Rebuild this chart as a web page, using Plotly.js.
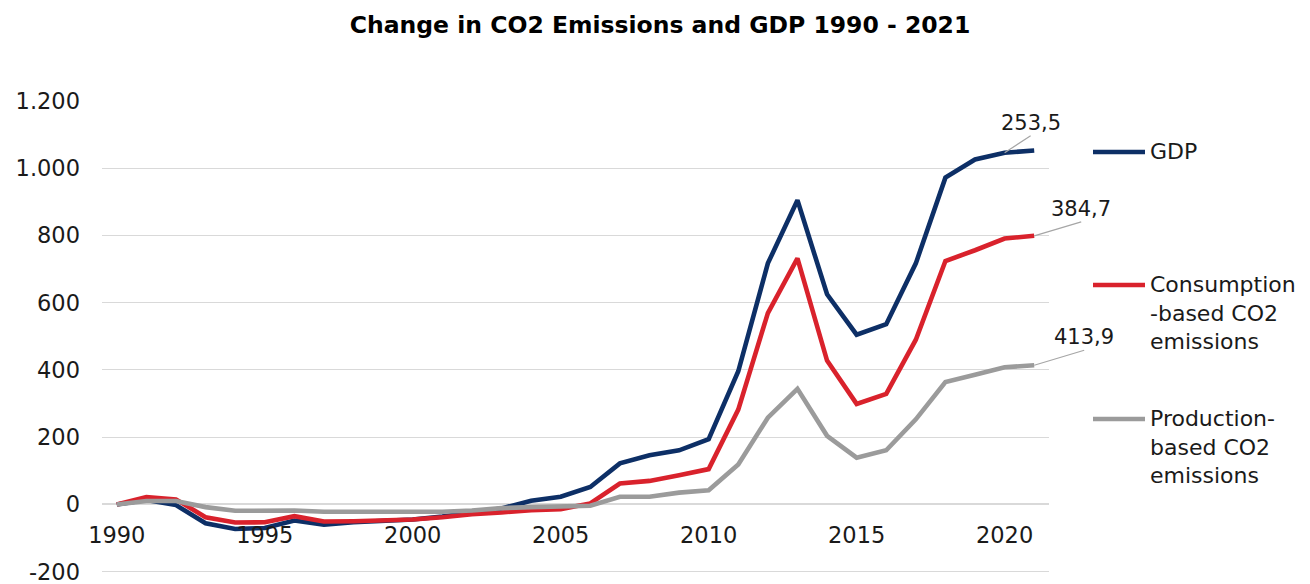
<!DOCTYPE html>
<html>
<head>
<meta charset="utf-8">
<script src="https://cdn.plot.ly/plotly-3.0.1.min.js"></script>
<style>
  html, body { margin: 0; padding: 0; background: #ffffff; }
  #chart { width: 1310px; height: 584px; }
</style>
</head>
<body>
<div id="chart"></div>
<script>
// Change since 1990 (index values), 1990 - 2021
const years = [1990, 1991, 1992, 1993, 1994, 1995, 1996, 1997, 1998, 1999,
               2000, 2001, 2002, 2003, 2004, 2005, 2006, 2007, 2008, 2009,
               2010, 2011, 2012, 2013, 2014, 2015, 2016, 2017, 2018, 2019,
               2020, 2021];

const gdp = [0, 13, -2, -56, -73, -70, -48, -60, -53, -48,
             -45, -36, -24, -12, 11, 23, 52, 122, 146, 161,
             194, 396, 717, 905, 625, 505, 536, 717, 972, 1026,
             1046, 1053];

const consumptionCO2 = [0, 22, 15, -38, -54, -53, -35, -51, -50, -48,
                        -45, -38, -29, -24, -17, -14, 3, 62, 70, 87,
                        105, 282, 569, 732, 428, 299, 329, 490, 724, 756,
                        791, 799];

const productionCO2 = [0, 10, 10, -8, -19, -19, -18, -22, -22, -23,
                       -24, -22, -18, -11, -8, -6, -4, 23, 23, 35,
                       42, 119, 258, 344, 204, 139, 161, 253, 364, 386,
                       408, 413.9];

const seriesNames = ['GDP', 'Consumption<br>-based CO2<br>emissions', 'Production-<br>based CO2<br>emissions'];
const seriesColors = ['#0d2f66', '#d9222c', '#9b9b9b'];

// Value callouts: text, series, year the leader line attaches to
const calloutTexts = ['253,5', '384,7', '413,9'];
const calloutYears = [2020, 2021, 2021];

const yTickVals = [-200, 0, 200, 400, 600, 800, 1000, 1200];
const yTickText = ['-200', '0', '200', '400', '600', '800', '1.000', '1.200'];

const chartTitle = 'Change in CO2 Emissions and GDP 1990 - 2021';

// ---- layout geometry ----
const W = 1310, H = 584;
const M = { l: 102, r: 261, t: 101, b: 11 };
const plotW = W - M.l - M.r;
const plotH = H - M.t - M.b;
// a little room below -200 so its gridline is kept
const yMin = -204, yMax = 1200;
const FONT = 'DejaVu Sans';
const TEXT = '#1a1a1a';

const px2x = px => (px - M.l) / plotW;
const px2y = py => (H - M.b - py) / plotH;

const allSeries = [gdp, consumptionCO2, productionCO2];

const traces = allSeries.map((vals, i) => ({
  type: 'scatter',
  mode: 'lines',
  x: years,
  y: vals,
  name: seriesNames[i].replace(/<br>/g, ' '),
  line: { color: seriesColors[i], width: 4.6, shape: 'linear' },
  hoverinfo: 'x+y+name',
  showlegend: false
}));

// leader-line callouts near the series ends
const calloutOffsets = [[26, -17], [47, -14], [50, -15]];
const annotations = calloutTexts.map((t, i) => {
  const idx = years.indexOf(calloutYears[i]);
  return {
    x: years[idx], y: allSeries[i][idx], xref: 'x', yref: 'y',
    text: t, showarrow: true, arrowhead: 0, arrowwidth: 1.2,
    arrowcolor: '#a6a6a6', standoff: 0, startstandoff: 0,
    ax: calloutOffsets[i][0], ay: calloutOffsets[i][1],
    xanchor: 'center', yanchor: 'bottom', borderpad: 0,
    font: { family: FONT, size: 21, color: TEXT }
  };
});

// legend on the right, drawn as line samples plus labels
const legendRows = [152, 285, 419];
const shapes = [];
legendRows.forEach((py, i) => {
  shapes.push({
    type: 'line', xref: 'paper', yref: 'paper',
    x0: px2x(1093), x1: px2x(1145), y0: px2y(py), y1: px2y(py),
    line: { color: seriesColors[i], width: 4.6 }
  });
  annotations.push({
    xref: 'paper', yref: 'paper',
    x: px2x(1148), y: px2y(py - 15.3),
    xanchor: 'left', yanchor: 'top', align: 'left',
    text: seriesNames[i], showarrow: false,
    font: { family: FONT, size: 22, color: TEXT }
  });
});

const layout = {
  width: W, height: H,
  margin: M,
  paper_bgcolor: '#ffffff',
  plot_bgcolor: '#ffffff',
  font: { family: FONT, size: 22, color: TEXT },
  title: {
    text: chartTitle,
    xref: 'container', yref: 'container',
    x: 660 / W, y: 1 - 25 / H, xanchor: 'center', yanchor: 'middle',
    font: { family: FONT, size: 23.5, weight: 'bold', color: '#000000' }
  },
  showlegend: false,
  xaxis: {
    range: [1989.5, 2021.5],
    tickmode: 'linear', tick0: 1990, dtick: 5,
    showgrid: false, zeroline: false, showline: false,
    ticks: '',
    anchor: 'free',
    position: (0 - yMin) / (yMax - yMin),
    ticklabelstandoff: 15,
    tickfont: { family: FONT, size: 22.5, color: TEXT },
    fixedrange: true
  },
  yaxis: {
    range: [yMin, yMax],
    tickmode: 'array', tickvals: yTickVals, ticktext: yTickText,
    showgrid: true, gridcolor: '#d9d9d9', gridwidth: 1.4,
    zeroline: true, zerolinecolor: '#d9d9d9', zerolinewidth: 1.6,
    showline: false, ticks: '',
    ticklabelstandoff: 21,
    ticklabeloverflow: 'allow',
    tickfont: { family: FONT, size: 22.5, color: TEXT },
    fixedrange: true
  },
  shapes: shapes,
  annotations: annotations
};

Plotly.newPlot('chart', traces, layout, { displayModeBar: false, staticPlot: false });
</script>
</body>
</html>
